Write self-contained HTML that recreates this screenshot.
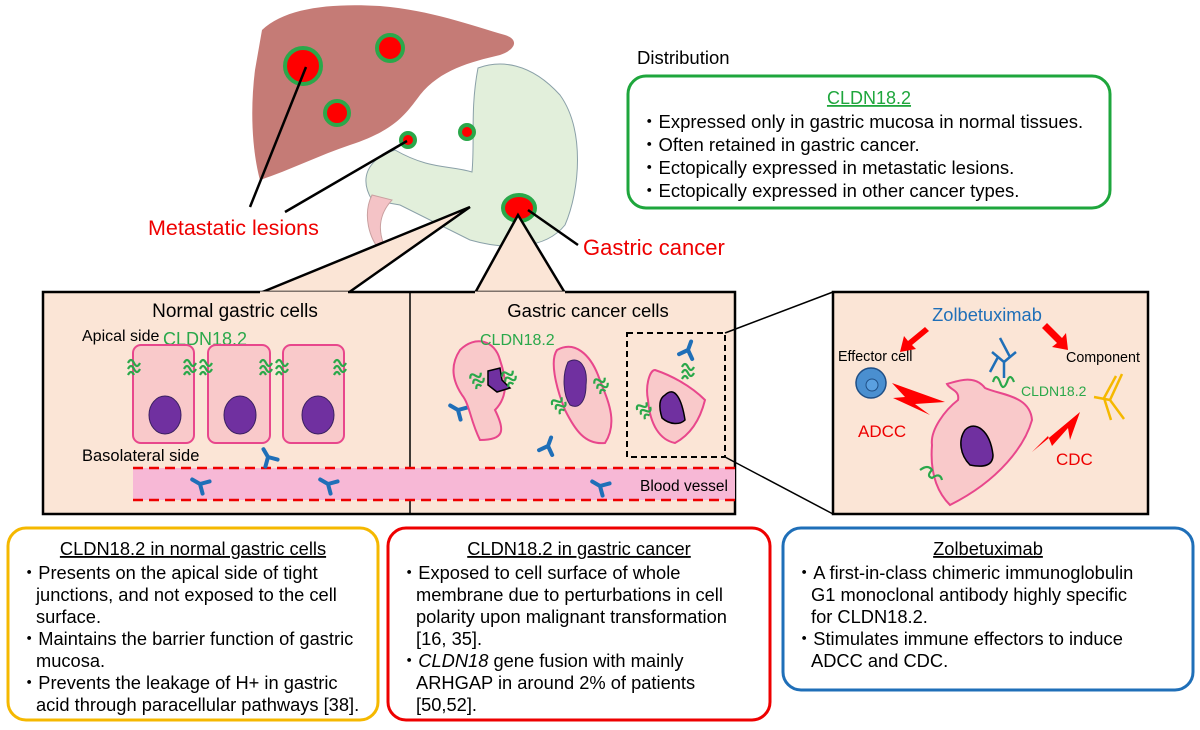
<!DOCTYPE html>
<html><head><meta charset="utf-8"><style>
html,body{margin:0;padding:0;background:#fff;}
svg{display:block;font-family:"Liberation Sans",Arial,sans-serif;}
</style></head><body>
<svg width="1200" height="730" viewBox="0 0 1200 730" xmlns="http://www.w3.org/2000/svg">
<defs>
<g id="ab"><path d="M0,0 L0,-9 M0,0 L-7,7 M0,0 L7,7" stroke="#1f6fb8" stroke-width="4" fill="none" stroke-linecap="round"/></g>
<g id="cl"><path d="M-6,-5 q3,-6 6,0 q3,6 6,0 M-6,1 q3,-6 6,0 q3,6 6,0 M-6,7 q3,-6 6,0" stroke="#2aa84a" stroke-width="2.2" fill="none"/></g>
</defs>
<!-- stomach -->
<path d="M372,200 C360,180 365,160 395,150 C430,170 450,165 472,172 C475,140 470,110 478,68 C500,60 530,62 560,95 C585,130 580,190 565,225 C545,250 505,250 470,240 C440,225 420,215 400,205 Z" fill="#e2efdb" stroke="#8aa0a8" stroke-width="1"/>
<path d="M372,195 C362,215 370,240 380,250 L385,247 C378,232 378,215 392,200 Z" fill="#f4c3c6" stroke="#c9a0a0" stroke-width="1"/>
<!-- liver -->
<path d="M262,30 C285,8 330,3 380,6 C430,10 470,25 505,35 C520,40 515,50 500,55 C470,62 440,70 420,95 C405,115 395,130 350,145 C320,155 290,170 260,180 C252,150 250,110 255,70 Z" fill="#c57b76"/>
<g stroke="#2aa84a" stroke-width="4" fill="#ff0000">
<circle cx="303" cy="66" r="18"/><circle cx="390" cy="48" r="13"/><circle cx="337" cy="113" r="12"/>
<circle cx="408" cy="140" r="7"/><circle cx="467" cy="132" r="7"/>
<ellipse cx="519" cy="208" rx="16" ry="13"/>
</g>
<g stroke="#000" stroke-width="2.5"><line x1="306" y1="67" x2="250" y2="207"/><line x1="407" y1="141" x2="285" y2="212"/><line x1="528" y1="210" x2="578" y2="245"/></g>
<text x="148" y="235" font-size="21.5" fill="#e00">Metastatic lesions</text>
<text x="583" y="255" font-size="22" fill="#e00">Gastric cancer</text>
<!-- callout triangles -->
<path d="M470,207 L260,293 L348,293 Z" fill="#fbe5d6" stroke="#000" stroke-width="2.5"/>
<path d="M518,215 L475,293 L565,293 Z" fill="#fbe5d6" stroke="#000" stroke-width="2.5"/>
<!-- Distribution -->
<text x="637" y="64" font-size="18.5">Distribution</text>
<rect x="628" y="76" width="482" height="132" rx="18" fill="#fff" stroke="#1ea63c" stroke-width="3"/>
<text x="869" y="104" font-size="18" text-anchor="middle" fill="#1ea63c" text-decoration="underline">CLDN18.2</text>
<g font-size="18.5"><text x="640" y="128">・Expressed only in gastric mucosa in normal tissues.</text><text x="640" y="151">・Often retained in gastric cancer.</text><text x="640" y="174">・Ectopically expressed in metastatic lesions.</text><text x="640" y="197">・Ectopically expressed in other cancer types.</text></g>
<!-- main panel -->
<rect x="43" y="292" width="692" height="222" fill="#fbe5d6" stroke="#000" stroke-width="2.5"/>
<line x1="410" y1="292" x2="410" y2="514" stroke="#000" stroke-width="1.5"/>
<path d="M260,293 L348,293 M475,293 L565,293" stroke="#fbe5d6" stroke-width="3"/>
<text x="235" y="317" font-size="19" text-anchor="middle">Normal gastric cells</text>
<text x="588" y="317" font-size="18.5" text-anchor="middle">Gastric cancer cells</text>
<text x="82" y="341" font-size="16">Apical side</text>
<text x="163" y="345" font-size="18" fill="#2aa84a">CLDN18.2</text>
<text x="82" y="461" font-size="16.5">Basolateral side</text>
<g fill="#f9c9ca" stroke="#e8478c" stroke-width="2">
<rect x="133" y="345" width="61" height="98" rx="8"/><rect x="208" y="345" width="62" height="98" rx="8"/><rect x="283" y="345" width="61" height="98" rx="8"/>
</g>
<g fill="#7030a0" stroke="#3a2060" stroke-width="1"><ellipse cx="165" cy="415" rx="16" ry="19"/><ellipse cx="240" cy="415" rx="16" ry="19"/><ellipse cx="318" cy="415" rx="16" ry="19"/></g>
<use href="#cl" x="134" y="368"/><use href="#cl" x="190" y="368"/><use href="#cl" x="206" y="368"/><use href="#cl" x="266" y="368"/><use href="#cl" x="282" y="368"/><use href="#cl" x="340" y="368"/>
<rect x="133" y="468" width="602" height="32" fill="#f7b8d6"/>
<path d="M133,468 H735 M133,500 H735" stroke="#e00" stroke-width="2.5" stroke-dasharray="10,6"/>
<text x="640" y="491" font-size="15.5">Blood vessel</text>
<use href="#ab" x="268" y="457" transform="rotate(-30 268 457)"/>
<use href="#ab" x="200" y="484" transform="rotate(-60 200 484)"/>
<use href="#ab" x="328" y="484" transform="rotate(-60 328 484)"/>
<use href="#ab" x="600" y="486" transform="rotate(-60 600 486)"/>
<use href="#ab" x="548" y="446" transform="rotate(20 548 446)"/>
<use href="#ab" x="458" y="410" transform="rotate(-60 458 410)"/>
<!-- cancer cells -->
<path d="M460,350 C475,335 495,340 500,360 C505,375 510,395 495,410 C505,430 505,440 480,440 C470,420 470,405 462,395 C452,380 450,365 460,350 Z" fill="#f9c9ca" stroke="#e8478c" stroke-width="2"/>
<path d="M488,371 L500,368 L502,380 L510,388 L497,392 L488,385 Z" fill="#7030a0" stroke="#000" stroke-width="1.5"/>
<path d="M557,350 C575,340 590,355 598,375 C605,395 620,420 605,443 C585,445 575,430 565,410 C555,385 550,360 557,350 Z" fill="#f9c9ca" stroke="#e8478c" stroke-width="2"/>
<path d="M568,362 C580,355 588,368 586,385 C586,400 580,410 570,405 C563,395 562,375 568,362 Z" fill="#7030a0" stroke="#3a2060" stroke-width="1"/>
<path d="M655,370 C670,375 690,385 705,400 C700,420 690,435 675,443 C660,440 650,425 648,400 C645,385 650,370 655,370 Z" fill="#f9c9ca" stroke="#e8478c" stroke-width="2"/>
<path d="M665,395 C675,385 682,400 685,420 C680,425 670,425 662,418 C658,405 660,398 665,395 Z" fill="#7030a0" stroke="#000" stroke-width="1.5"/>
<use href="#cl" x="478" y="380" transform="rotate(-30 478 380)"/><use href="#cl" x="510" y="378" transform="rotate(-30 510 378)"/>
<use href="#cl" x="560" y="405" transform="rotate(-40 560 405)"/><use href="#cl" x="602" y="385" transform="rotate(-30 602 385)"/>
<use href="#cl" x="688" y="372"/><use href="#cl" x="645" y="410" transform="rotate(-40 645 410)"/>
<use href="#ab" x="688" y="350" transform="rotate(20 688 350)"/>
<text x="480" y="345" font-size="16" fill="#2aa84a">CLDN18.2</text>
<rect x="627" y="333" width="98" height="124" fill="none" stroke="#000" stroke-width="2" stroke-dasharray="6,4"/>
<line x1="725" y1="333" x2="833" y2="292" stroke="#000" stroke-width="1.5"/>
<line x1="725" y1="457" x2="833" y2="514" stroke="#000" stroke-width="1.5"/>
<!-- right panel -->
<rect x="833" y="292" width="315" height="222" fill="#fbe5d6" stroke="#000" stroke-width="2.5"/>
<text x="987" y="321" font-size="18.3" text-anchor="middle" fill="#1f6fb8">Zolbetuximab</text>
<text x="838" y="361" font-size="14.3">Effector cell</text>
<text x="1066" y="362" font-size="14.3">Component</text>
<path d="M925,327 L908,341 L904,336 L900,352 L916,349 L912,345 L929,331 Z" fill="#f00"/>
<path d="M1047,323 L1062,338 L1066,333 L1068,350 L1052,347 L1057,343 L1042,328 Z" fill="#f00"/>
<circle cx="871" cy="383" r="15" fill="#4a8fd0" stroke="#1f4f86" stroke-width="1.5"/>
<circle cx="872" cy="385" r="6" fill="#5aa0e0" stroke="#1f4f86"/>
<path d="M892,383 L945,402 L915,404 L930,415 L893,398 L905,397 Z" fill="#f00"/>
<path d="M1080,412 L1032,452 L1048,436 L1052,446 L1068,428 L1070,440 Z" fill="#f00"/>
<text x="858" y="437" font-size="17" fill="#e00">ADCC</text>
<text x="1056" y="465" font-size="17" fill="#e00">CDC</text>
<path d="M947,384 C960,380 975,375 985,388 C1000,395 1030,395 1032,420 C1025,445 1000,480 950,505 C935,490 930,470 932,445 C930,430 945,410 958,400 C960,390 950,390 947,384 Z" fill="#f9c9ca" stroke="#e8478c" stroke-width="2"/>
<path d="M965,430 C975,420 990,430 993,455 C993,465 985,468 970,465 C960,455 958,440 965,430 Z" fill="#7030a0" stroke="#000" stroke-width="1.5"/>
<path d="M993,382 q3,-10 7,0 q3,10 7,0 q3,-10 7,0" stroke="#2aa84a" stroke-width="2.2" fill="none"/>
<path d="M920,470 q8,-6 12,0 q-6,6 0,8 q8,-6 10,2" stroke="#2aa84a" stroke-width="2.2" fill="none"/>
<path d="M1004,362 L1004,378 M1004,362 L992,352 M1004,362 L1016,352 M1010,357 L1000,338 M998,357 L990,372" stroke="#1f6fb8" stroke-width="2.5" fill="none"/>
<text x="1021" y="396" font-size="14" fill="#2aa84a">CLDN18.2</text>
<path d="M1122,374 L1110,400 L1124,419 M1110,400 L1094,397 M1116,376 L1104,398 L1111,420" stroke="#f5b800" stroke-width="2.5" fill="none"/>
<!-- bottom boxes -->
<rect x="8" y="528" width="370" height="192" rx="18" fill="#fff" stroke="#f5b800" stroke-width="3"/>
<g font-size="18.3">
<text x="193" y="555" text-anchor="middle" text-decoration="underline">CLDN18.2 in normal gastric cells</text>
<text x="20" y="579">・Presents on the apical side of tight</text><text x="36" y="601">junctions, and not exposed to the cell</text><text x="36" y="623">surface.</text>
<text x="20" y="645">・Maintains the barrier function of gastric</text><text x="36" y="667">mucosa.</text>
<text x="20" y="689">・Prevents the leakage of H+ in gastric</text><text x="36" y="711">acid through paracellular pathways [38].</text>
</g>
<rect x="388" y="528" width="382" height="192" rx="18" fill="#fff" stroke="#e00" stroke-width="3"/>
<g font-size="18.3">
<text x="579" y="555" text-anchor="middle" text-decoration="underline">CLDN18.2 in gastric cancer</text>
<text x="400" y="579">・Exposed to cell surface of whole</text><text x="416" y="601">membrane due to perturbations in cell</text><text x="416" y="623">polarity upon malignant transformation</text><text x="416" y="645">[16, 35].</text>
<text x="400" y="667">・<tspan font-style="italic">CLDN18</tspan> gene fusion with mainly</text><text x="416" y="689">ARHGAP in around 2% of patients</text><text x="416" y="711">[50,52].</text>
</g>
<rect x="783" y="528" width="410" height="162" rx="18" fill="#fff" stroke="#1f6fb8" stroke-width="3"/>
<g font-size="18.3">
<text x="988" y="555" text-anchor="middle" text-decoration="underline">Zolbetuximab</text>
<text x="795" y="579">・A first-in-class chimeric immunoglobulin</text><text x="811" y="601">G1 monoclonal antibody highly specific</text><text x="811" y="623">for CLDN18.2.</text>
<text x="795" y="645">・Stimulates immune effectors to induce</text><text x="811" y="667">ADCC and CDC.</text>
</g>
</svg>
</body></html>
